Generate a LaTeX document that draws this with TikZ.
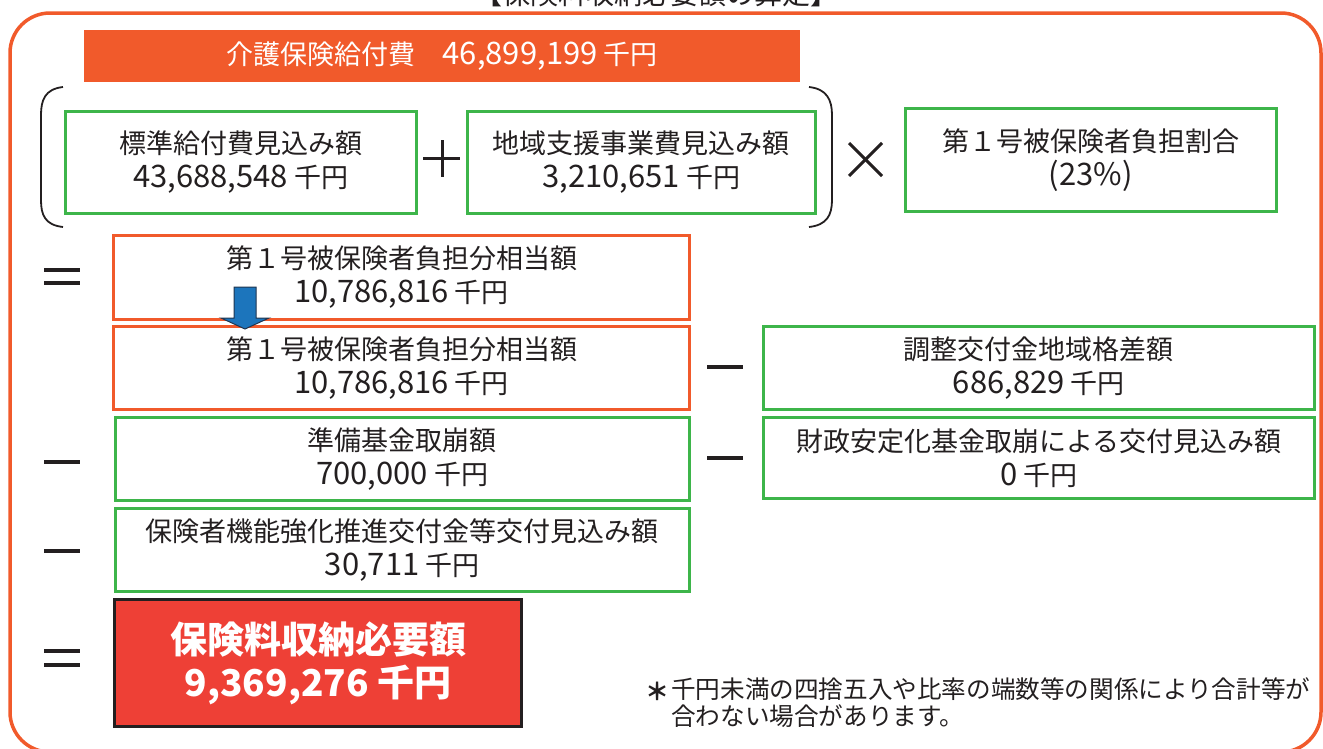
\documentclass[tikz,border=0pt]{standalone}
\usepackage{fontspec}
\setmainfont{Noto Sans CJK JP}
\definecolor{orng}{HTML}{F15A2B}
\definecolor{grn}{HTML}{3DB54A}
\definecolor{redf}{HTML}{EE4036}
\definecolor{ink}{HTML}{231F20}
\definecolor{blu}{HTML}{1C75BC}
\definecolor{navy}{HTML}{1F3550}
\newcommand\numtxt[1]{{\fontsize{31}{34}\selectfont #1}}
\begin{document}
\begin{tikzpicture}[x=1pt,y=-1pt,
  txt/.style={font=\fontsize{27}{34}\selectfont, align=center, text=ink, inner sep=0pt},
  gbox/.style={txt, draw=grn, line width=2.5pt, anchor=north west},
  obox/.style={txt, draw=orng, line width=3pt, anchor=north west},
  opline/.style={draw=ink, line width=3pt},
  eqline/.style={draw=ink, line width=3.5pt}
]
\useasboundingbox (0,0) rectangle (1323,748);
% outer frame
\draw[orng, line width=3.5pt, rounded corners=40pt] (10,13) rectangle (1321,752);
% clipped title (cut off at the top, as in the reference)
\node[font=\fontsize{28}{30}\selectfont, text=ink, anchor=base, inner sep=0pt] (title) at (656,4) {【保険料収納必要額の算定】};
% top orange bar
\node[fill=orng, anchor=north west, minimum width=716, minimum height=52, inner sep=0pt,
      font=\fontsize{27}{30}\selectfont, text=white] (total) at (84,30) {介護保険給付費　\numtxt{46,899,199} 千円};
% brackets
\draw[ink, line width=1.8pt] (63,87) .. controls (45,89) and (41,100) .. (41,115) -- (41,200) .. controls (41,215) and (45,225) .. (63,227);
\draw[ink, line width=1.8pt] (809,87) .. controls (827,89) and (832,100) .. (832,115) -- (832,200) .. controls (832,215) and (827,225) .. (809,227);
% first row
\node[gbox, minimum width=351, minimum height=102] (std) at (64,110) {標準給付費見込み額\\\numtxt{43,688,548} 千円};
\node[gbox, minimum width=348, minimum height=102] (reg) at (466,110) {地域支援事業費見込み額\\\numtxt{3,210,651} 千円};
\node[gbox, minimum width=371, minimum height=103] (ratio) at (904,107) {第１号被保険者負担割合\\\numtxt{(23\%)}};
% plus and times
\draw[opline] (423,158) -- (460,158);
\draw[opline] (442,140) -- (442,177);
\draw[opline] (849,143) -- (882,176);
\draw[opline] (849,176) -- (882,143);
% equals row 1
\draw[eqline] (44,270) -- (80,270);
\draw[eqline] (44,283) -- (80,283);
\node[obox, minimum width=576, minimum height=84] (share) at (112,234) {第１号被保険者負担分相当額\\\numtxt{10,786,816} 千円};
\node[obox, minimum width=576, minimum height=83] (share2) at (112,325) {第１号被保険者負担分相当額\\\numtxt{10,786,816} 千円};
% blue arrow
\draw[fill=blu, draw=navy, line width=1pt] (234,287) -- (256,287) -- (256,318) -- (269,318) -- (245,329) -- (221,318) -- (234,318) -- cycle;
% minus signs
\draw[eqline] (707,367) -- (743,367);
\draw[eqline] (707,458) -- (743,458);
\draw[eqline] (44,462) -- (80,462);
\draw[eqline] (44,551) -- (80,551);
\node[gbox, minimum width=551, minimum height=83] (adj) at (762,325) {調整交付金地域格差額\\\numtxt{686,829} 千円};
\node[gbox, minimum width=574, minimum height=83] (fund) at (114,416) {準備基金取崩額\\\numtxt{700,000} 千円};
\node[gbox, minimum width=551, minimum height=81] (fsf) at (762,416) {財政安定化基金取崩による交付見込み額\\\numtxt{0} 千円};
\node[gbox, minimum width=574, minimum height=83] (incent) at (114,507) {保険者機能強化推進交付金等交付見込み額\\\numtxt{30,711} 千円};
% final equals
\draw[eqline] (44,651) -- (80,651);
\draw[eqline] (44,665) -- (80,665);
\node[fill=redf, draw=ink, line width=3pt, anchor=north west, minimum width=407, minimum height=127,
      inner sep=0pt, align=center, text=white, font=\fontsize{37}{43}\selectfont\bfseries] (result) at (113,598) {保険料収納必要額\\9,369,276 千円};
% footnote
\node[font=\fontsize{24}{27}\selectfont\bfseries, text=ink, anchor=center, inner sep=0pt] (ast) at (657,691) {＊};
\node[font=\fontsize{24.6}{27}\selectfont, text=ink, anchor=north west, align=left, inner sep=0pt] (note) at (671,677) {千円未満の四捨五入や比率の端数等の関係により合計等が\\合わない場合があります。};
\end{tikzpicture}
\end{document}
